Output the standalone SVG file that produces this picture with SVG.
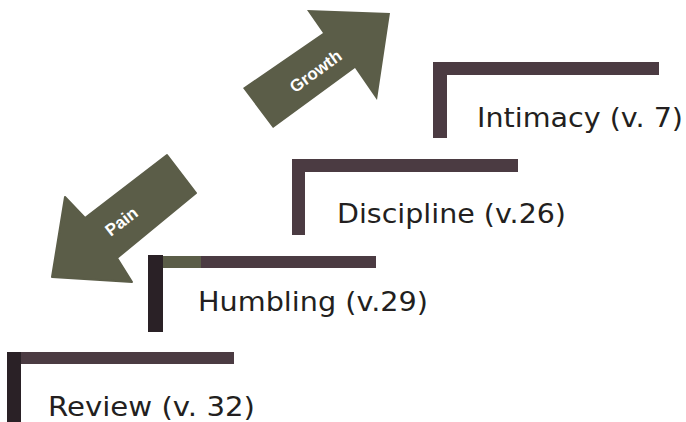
<svg xmlns="http://www.w3.org/2000/svg" width="686" height="422" viewBox="0 0 686 422">
<style>
.arrow{fill:#5b5d48}
.alabel{font-family:"Liberation Sans",Arial,sans-serif;font-weight:bold;font-size:17px;fill:#ffffff;text-anchor:middle}
.dark{fill:#2a2126}
.bar{fill:#4b3b42}
.label{font-family:"DejaVu Sans","Noto Sans",sans-serif;font-size:26px;fill:#231f20}
</style>
<rect width="686" height="422" fill="#ffffff"/>
<g id="connectors">
<g id="growth">
<polygon class="arrow" points="243,88 323,33 307,10 390,13 377,100 355,68 273,128"/>
<text class="alabel" transform="translate(319,76) rotate(-36)">Growth</text>
</g>
<g id="pain">
<polygon class="arrow" points="167,155 196,193 117,258 132,282 52,277 65,197 85,218" stroke="#5b5d48" stroke-width="2" stroke-linejoin="round"/>
<text class="alabel" transform="translate(125,226) rotate(-37.5)">Pain</text>
</g>
</g>
<g id="review">
<rect class="bar" x="20" y="352" width="214" height="12"/>
<rect class="dark" x="7" y="352" width="14" height="70"/>
<text class="label" x="48" y="416" textLength="207" lengthAdjust="spacingAndGlyphs">Review (v. 32)</text>
</g>
<g id="humbling">
<rect class="bar" x="201" y="256" width="175" height="12"/>
<rect x="162" y="256" width="39" height="12" fill="#5b5d48"/>
<rect class="dark" x="148" y="255" width="15" height="77"/>
<text class="label" x="198" y="311" textLength="230" lengthAdjust="spacingAndGlyphs">Humbling (v.29)</text>
</g>
<g id="discipline">
<rect class="bar" x="292" y="159" width="226" height="13"/>
<rect class="bar" x="292" y="159" width="13" height="76"/>
<text class="label" x="337" y="223" textLength="229" lengthAdjust="spacingAndGlyphs">Discipline (v.26)</text>
</g>
<g id="intimacy">
<rect class="bar" x="447" y="62" width="212" height="13"/>
<rect class="bar" x="433" y="62" width="14" height="76"/>
<text class="label" x="477" y="127" textLength="206" lengthAdjust="spacingAndGlyphs">Intimacy (v. 7)</text>
</g>
</svg>
